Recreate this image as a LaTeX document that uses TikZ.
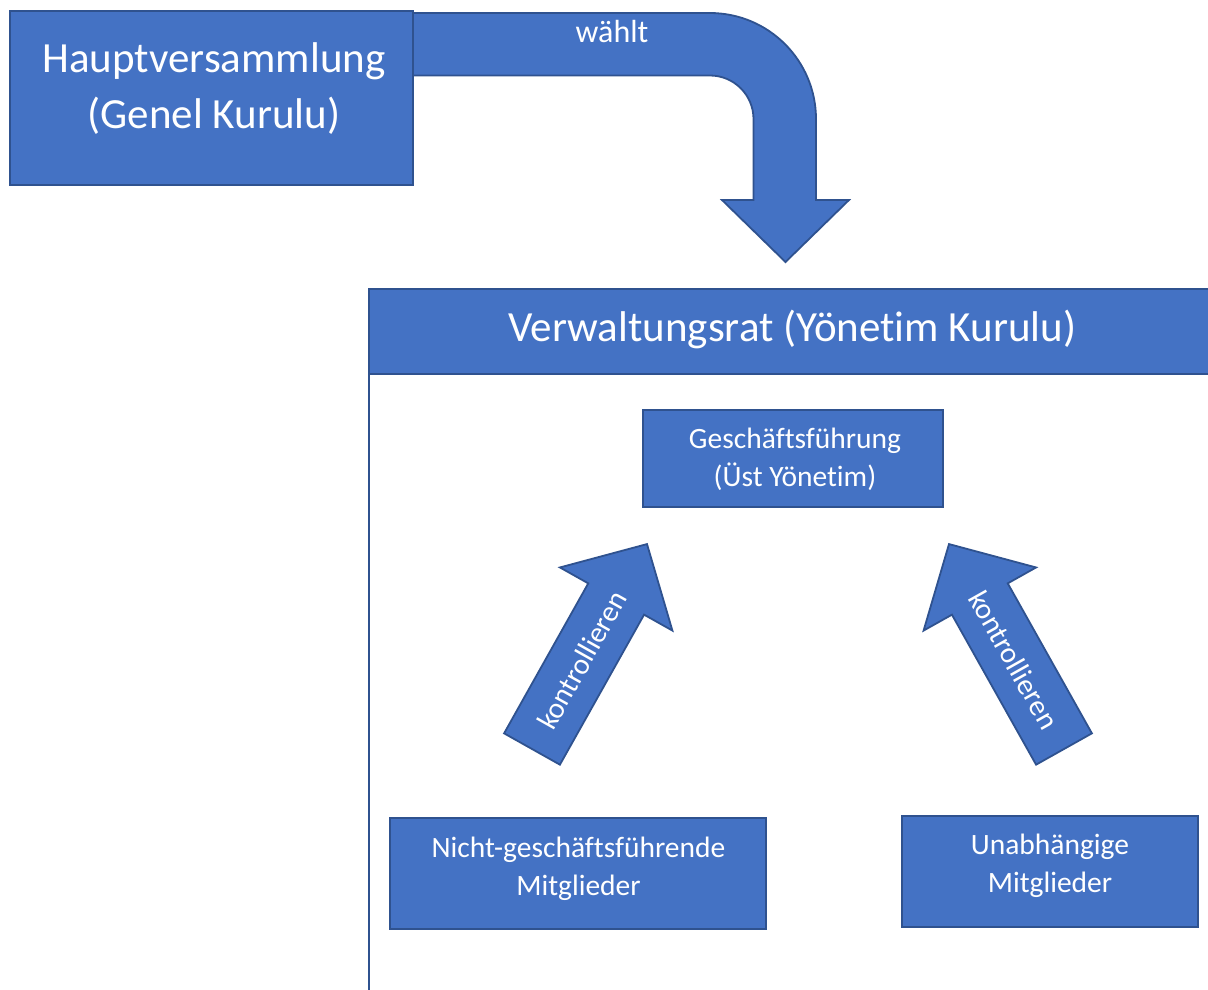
\documentclass[tikz,border=0pt]{standalone}
\usepackage{fontspec}
\setmainfont{Carlito}[Ligatures=NoCommon]
\definecolor{fillc}{HTML}{4472C4}
\definecolor{bdr}{HTML}{2F528F}
\begin{document}
\begin{tikzpicture}[x=1pt,y=-1pt,
  box/.style={draw=bdr, fill=fillc, line width=1.8pt, inner sep=0pt},
  body/.style={draw=bdr, fill=white, line width=1.8pt, inner sep=0pt},
  blockarrow/.style={draw=bdr, fill=fillc, line width=1.8pt, line join=miter},
  bigtxt/.style={text=white, font=\fontsize{43}{56}\selectfont, align=center, inner sep=0pt},
  smalltxt/.style={text=white, font=\fontsize{29.5}{38}\selectfont, align=center, inner sep=0pt}]
\useasboundingbox (0,0) rectangle (1208,989);
\clip (0,0) rectangle (1208,989);

% Verwaltungsrat container and header
\node[body, minimum width=861pt, minimum height=720pt] (vrbody) at (799.5,649) {};
\node[box, minimum width=861pt, minimum height=85pt] (vr) at (799.5,331.5) {};
\node[bigtxt, anchor=base] (vrt) at (792.5,341.7) {Verwaltungsrat (Yönetim Kurulu)};

% bent arrow "wählt"
\draw[blockarrow] (413,13) -- (710,13)
  .. controls (768.5,13) and (816,60.5) .. (816,119)
  -- (816,200) -- (849,200) -- (785.5,262) -- (722,200) -- (753.5,200) -- (753.5,119)
  .. controls (753.5,95) and (734,75.5) .. (710,75.5)
  -- (413,75.5) -- cycle;
\node[smalltxt, font=\fontsize{32}{38}\selectfont, anchor=base] (wt) at (612,42) {wählt};

% Hauptversammlung
\node[box, minimum width=403pt, minimum height=174pt] (hv) at (211.5,98) {};
\node[bigtxt] (hvt) at (214,88.8) {\strut Hauptversammlung\\\strut (Genel Kurulu)};

% Geschäftsführung
\node[box, minimum width=300pt, minimum height=97pt] (gf) at (793,458.5) {};
\node[smalltxt] (gft) at (795,459.4) {\strut Geschäftsführung\\\strut (Üst Yönetim)};

% Nicht-geschäftsführende Mitglieder
\node[box, minimum width=376pt, minimum height=111pt] (nm) at (578,873.5) {};
\node[smalltxt] (nmt) at (578.5,868.8) {\strut Nicht-geschäftsführende\\\strut Mitglieder};

% Unabhängige Mitglieder
\node[box, minimum width=296pt, minimum height=111pt] (um) at (1050,871.5) {};
\node[smalltxt] (umt) at (1050,866.2) {\strut Unabhängige\\\strut Mitglieder};

% left block arrow
\begin{scope}[shift={(532,749)}, rotate=60.7]
  \draw[blockarrow] (0,-32) -- (172,-32) -- (172,-64.5) -- (235,0) -- (172,64.5) -- (172,32) -- (0,32) -- cycle;
\end{scope}
\node[smalltxt, rotate=60.7] (k1) at (582,660) {kontrollieren};

% right block arrow
\begin{scope}[shift={(1064,749)}, rotate=119.3]
  \draw[blockarrow] (0,-32) -- (172,-32) -- (172,-64.5) -- (235,0) -- (172,64.5) -- (172,32) -- (0,32) -- cycle;
\end{scope}
\node[smalltxt, rotate=-60.7] (k2) at (1014,660) {kontrollieren};
\end{tikzpicture}
\end{document}
